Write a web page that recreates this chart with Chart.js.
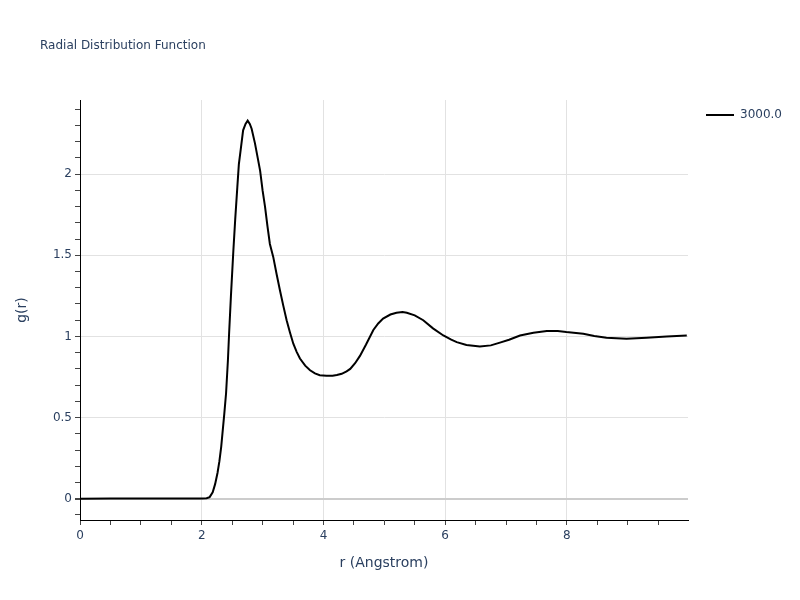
<!DOCTYPE html>
<html><head><meta charset="utf-8">
<script src="https://cdn.jsdelivr.net/npm/chart.js@4/dist/chart.umd.min.js"></script>
<style>html,body{margin:0;padding:0;background:#fff}#wrap{width:800px;height:600px}</style>
</head><body><div id="wrap"><canvas id="c" width="800" height="600"></canvas></div>
<script>
const titleText = "Radial Distribution Function";
const seriesName = "3000.0";
const xTitle = "r (Angstrom)";
const yTitle = "g(r)";
const rValues = [0,0.5,1.0,1.5,2.0,2.08,2.13,2.18,2.22,2.26,2.29,2.32,2.34,2.37,2.40,2.43,2.45,2.48,2.52,2.55,2.585,2.61,2.64,2.68,2.72,2.755,2.79,2.82,2.875,2.92,2.96,3.0,3.04,3.08,3.12,3.175,3.23,3.285,3.34,3.395,3.45,3.505,3.56,3.614,3.70,3.78,3.86,3.94,4.05,4.15,4.22,4.3,4.38,4.44,4.52,4.60,4.70,4.82,4.90,4.98,5.1,5.2,5.3,5.37,5.5,5.64,5.8,5.97,6.1,6.19,6.35,6.57,6.75,6.90,7.05,7.23,7.45,7.67,7.85,7.99,8.27,8.45,8.65,8.98,9.31,9.64,9.97];
const gValues = [0,0.001,0.001,0.002,0.002,0.003,0.01,0.04,0.09,0.16,0.23,0.32,0.40,0.52,0.65,0.85,1.02,1.25,1.53,1.72,1.92,2.06,2.15,2.27,2.31,2.33,2.31,2.28,2.19,2.10,2.02,1.90,1.80,1.68,1.57,1.49,1.385,1.285,1.19,1.10,1.025,0.955,0.905,0.864,0.82,0.792,0.772,0.761,0.758,0.758,0.762,0.770,0.785,0.80,0.835,0.88,0.95,1.04,1.08,1.11,1.135,1.146,1.15,1.146,1.13,1.10,1.05,1.006,0.98,0.965,0.948,0.938,0.945,0.962,0.98,1.006,1.023,1.033,1.034,1.027,1.017,1.003,0.992,0.986,0.992,1.0,1.006];
const xRange = [0, 9.99];
const yRange = [-0.131, 2.457];
const xTickStep = 0.5, xLabelStep = 2;
const yTickStep = 0.1, yLabelStep = 0.5;

const textColor = '#2a3f5f';
const fontFam = '"DejaVu Sans", Verdana, sans-serif';
const near = (v, s) => Math.abs(v / s - Math.round(v / s)) < 1e-6;

const overlay = {
  id: 'overlay',
  afterDraw(chart) {
    const ctx = chart.ctx, a = chart.chartArea;
    ctx.save();
    ctx.fillStyle = textColor;
    ctx.font = '12px ' + fontFam;
    ctx.textBaseline = 'middle';
    ctx.textAlign = 'left';
    ctx.fillText(titleText, 40, 46);
    // legend
    ctx.strokeStyle = '#000'; ctx.lineWidth = 2;
    ctx.beginPath(); ctx.moveTo(706, 115); ctx.lineTo(734, 115); ctx.stroke();
    ctx.fillText(seriesName, 740, 115);
    // axis titles
    ctx.font = '14px ' + fontFam;
    ctx.textAlign = 'center';
    ctx.fillText(xTitle, (a.left + a.right) / 2, 563);
    ctx.translate(22, (a.top + a.bottom) / 2);
    ctx.rotate(-Math.PI / 2);
    ctx.fillText(yTitle, 0, 0);
    ctx.restore();
  }
};

new Chart(document.getElementById('c'), {
  type: 'line',
  data: {
    datasets: [{
      label: seriesName,
      data: rValues.map((r, i) => ({ x: r, y: gValues[i] })),
      borderColor: '#000',
      borderWidth: 2,
      pointRadius: 0,
      tension: 0,
      fill: false
    }]
  },
  options: {
    responsive: false,
    animation: false,
    layout: { padding: { top: 100, right: 112, left: 0, bottom: 0 } },
    plugins: { legend: { display: false }, title: { display: false }, tooltip: { enabled: false } },
    scales: {
      x: {
        type: 'linear', min: xRange[0], max: xRange[1],
        afterFit(s) { s.height = 80; },
        afterBuildTicks(s) {
          const t = [];
          for (let v = 0; v <= xRange[1] + 1e-9; v += xTickStep) t.push({ value: +v.toFixed(3) });
          s.ticks = t;
        },
        ticks: {
          autoSkip: false, maxRotation: 0, padding: 4, color: textColor,
          font: { size: 12, family: fontFam },
          callback: v => near(v, xLabelStep) ? String(v) : ''
        },
        grid: {
          color: c => (c.tick && c.tick.value > 0 && near(c.tick.value, xLabelStep)) ? '#e2e2e2' : 'rgba(0,0,0,0)',
          lineWidth: 1,
          tickColor: '#444', tickLength: 5, drawTicks: true
        },
        border: { color: '#000', width: 1 }
      },
      y: {
        type: 'linear', min: yRange[0], max: yRange[1],
        afterFit(s) { s.width = 80; },
        afterBuildTicks(s) {
          const t = [];
          for (let k = -1; k <= 24; k++) t.push({ value: +(k * yTickStep).toFixed(3) });
          s.ticks = t;
        },
        ticks: {
          autoSkip: false, padding: 3, color: textColor,
          font: { size: 12, family: fontFam },
          callback: v => near(v, yLabelStep) ? String(+v.toFixed(2)) : ''
        },
        grid: {
          color: c => {
            if (!c.tick) return 'rgba(0,0,0,0)';
            if (Math.abs(c.tick.value) < 1e-9) return '#cccccc';
            return near(c.tick.value, yLabelStep) ? '#e2e2e2' : 'rgba(0,0,0,0)';
          },
          lineWidth: c => (c.tick && Math.abs(c.tick.value) < 1e-9) ? 2 : 1,
          tickColor: '#444', tickLength: 5, drawTicks: true
        },
        border: { color: '#000', width: 1 }
      }
    }
  },
  plugins: [overlay]
});
</script>
</body></html>
